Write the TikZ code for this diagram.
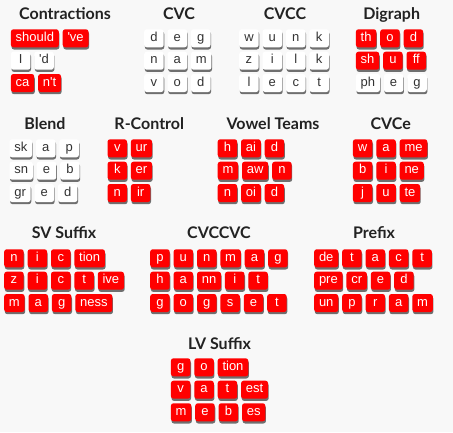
\documentclass[tikz,border=0pt]{standalone}
\usepackage{fontspec}
\setmainfont{Liberation Sans}
\newfontfamily\titlefont{Lato}
\usetikzlibrary{positioning}
\usetikzlibrary{shadows}
\definecolor{tilered}{RGB}{255,0,0}
\definecolor{tiletext}{RGB}{51,51,51}
\definecolor{titletext}{RGB}{34,34,34}
\definecolor{backdrop}{RGB}{248,248,248}

% one row of tiles: name, start point, style, letters
\newcommand{\tilerow}[4]{%
  \coordinate (#1-0) at #2;
  \foreach \t [count=\i, remember=\i as \j (initially 0)] in {#4}
    {\node[#3, right=3.5pt of #1-\j] (#1-\i) {\t};}
}

\begin{document}
\begin{tikzpicture}[x=1pt, y=-1pt]
\tikzset{tile/.style = {rounded corners=2.5pt, minimum height=18pt, minimum width=19.5pt,
    inner xsep=4.8pt, inner ysep=0pt, text height=9pt, text depth=2.6pt,
    font=\fontsize{13}{13}\selectfont,
    drop shadow={shadow xshift=0.6pt, shadow yshift=-2.2pt, fill=black, opacity=0.55}}}
\tikzset{redtile/.style = {tile, fill=tilered, text=white}}
\tikzset{whitetile/.style = {tile, fill=white, text=tiletext}}
\tikzset{title/.style = {anchor=base, text=titletext, font=\titlefont\bfseries\fontsize{16}{16}\selectfont}}

\useasboundingbox (0,0) rectangle (453,432);
\fill[backdrop] (0,0) rectangle (453,432);

% first band
\node[title] (contr) at (65,19.3) {Contractions};
\tilerow{contr-a}{(7.2,38.3)}{redtile}{should, \textquotesingle ve}
\tilerow{contr-b}{(7.2,60.7)}{whitetile}{I, \textquotesingle d}
\tilerow{contr-c}{(7.2,83)}{redtile}{ca, n\textquotesingle t}

\node[title] (cvc) at (179,19.3) {CVC};
\tilerow{cvc-a}{(140.5,38.3)}{whitetile}{d, e, g}
\tilerow{cvc-b}{(140.5,60.7)}{whitetile}{n, a, m}
\tilerow{cvc-c}{(140.5,83)}{whitetile}{v, o, d}

\node[title] (cvcc) at (285,19.3) {CVCC};
\tilerow{cvcc-a}{(235.5,38.3)}{whitetile}{w, u, n, k}
\tilerow{cvcc-b}{(235.5,60.7)}{whitetile}{z, i, l, k}
\tilerow{cvcc-c}{(235.5,83)}{whitetile}{l, e, c, t}

\node[title] (digraph) at (391.7,19.3) {Digraph};
\tilerow{digraph-a}{(352.2,38.3)}{redtile}{th, o, d}
\tilerow{digraph-b}{(352.2,60.7)}{redtile}{sh, u, ff}
\tilerow{digraph-c}{(352.2,83)}{whitetile}{ph, e, g}

% second band
\node[title] (blend) at (45,129.3) {Blend};
\tilerow{blend-a}{(5.8,148.3)}{whitetile}{sk, a, p}
\tilerow{blend-b}{(5.8,170.7)}{whitetile}{sn, e, b}
\tilerow{blend-c}{(5.8,193)}{whitetile}{gr, e, d}

\node[title] (rcontrol) at (149.3,129.3) {R-Control};
\tilerow{rcontrol-a}{(103.8,148.3)}{redtile}{v, ur}
\tilerow{rcontrol-b}{(103.8,170.7)}{redtile}{k, er}
\tilerow{rcontrol-c}{(103.8,193)}{redtile}{n, ir}

\node[title] (vowel) at (273,129.3) {Vowel Teams};
\tilerow{vowel-a}{(214,148.3)}{redtile}{h, ai, d}
\tilerow{vowel-b}{(214,170.7)}{redtile}{m, aw, n}
\tilerow{vowel-c}{(214,193)}{redtile}{n, oi, d}

\node[title] (cvce) at (390.7,129.3) {CVCe};
\tilerow{cvce-a}{(349.2,148.3)}{redtile}{w, a, me}
\tilerow{cvce-b}{(349.2,170.7)}{redtile}{b, i, ne}
\tilerow{cvce-c}{(349.2,193)}{redtile}{j, u, te}

% third band
\node[title] (sv) at (64,238.3) {SV Suffix};
\tilerow{sv-a}{(0.5,258.3)}{redtile}{n, i, c, tion}
\tilerow{sv-b}{(0.5,280.7)}{redtile}{z, i, c, t, ive}
\tilerow{sv-c}{(0.5,303)}{redtile}{m, a, g, ness}

\node[title] (cvccvc) at (219,238.3) {CVCCVC};
\tilerow{cvccvc-a}{(146.5,258.3)}{redtile}{p, u, n, m, a, g}
\tilerow{cvccvc-b}{(146.5,280.7)}{redtile}{h, a, nn, i, t}
\tilerow{cvccvc-c}{(146.5,303)}{redtile}{g, o, g, s, e, t}

\node[title] (prefix) at (374,238.3) {Prefix};
\tilerow{prefix-a}{(310.5,258.3)}{redtile}{de, t, a, c, t}
\tilerow{prefix-b}{(310.5,280.7)}{redtile}{pre, cr, e, d}
\tilerow{prefix-c}{(310.5,303)}{redtile}{un, p, r, a, m}

% last band
\node[title] (lv) at (219.5,349) {LV Suffix};
\tilerow{lv-a}{(167.2,367.3)}{redtile}{g, o, tion}
\tilerow{lv-b}{(167.2,389.7)}{redtile}{v, a, t, est}
\tilerow{lv-c}{(167.2,412.3)}{redtile}{m, e, b, es}

\end{tikzpicture}
\end{document}
